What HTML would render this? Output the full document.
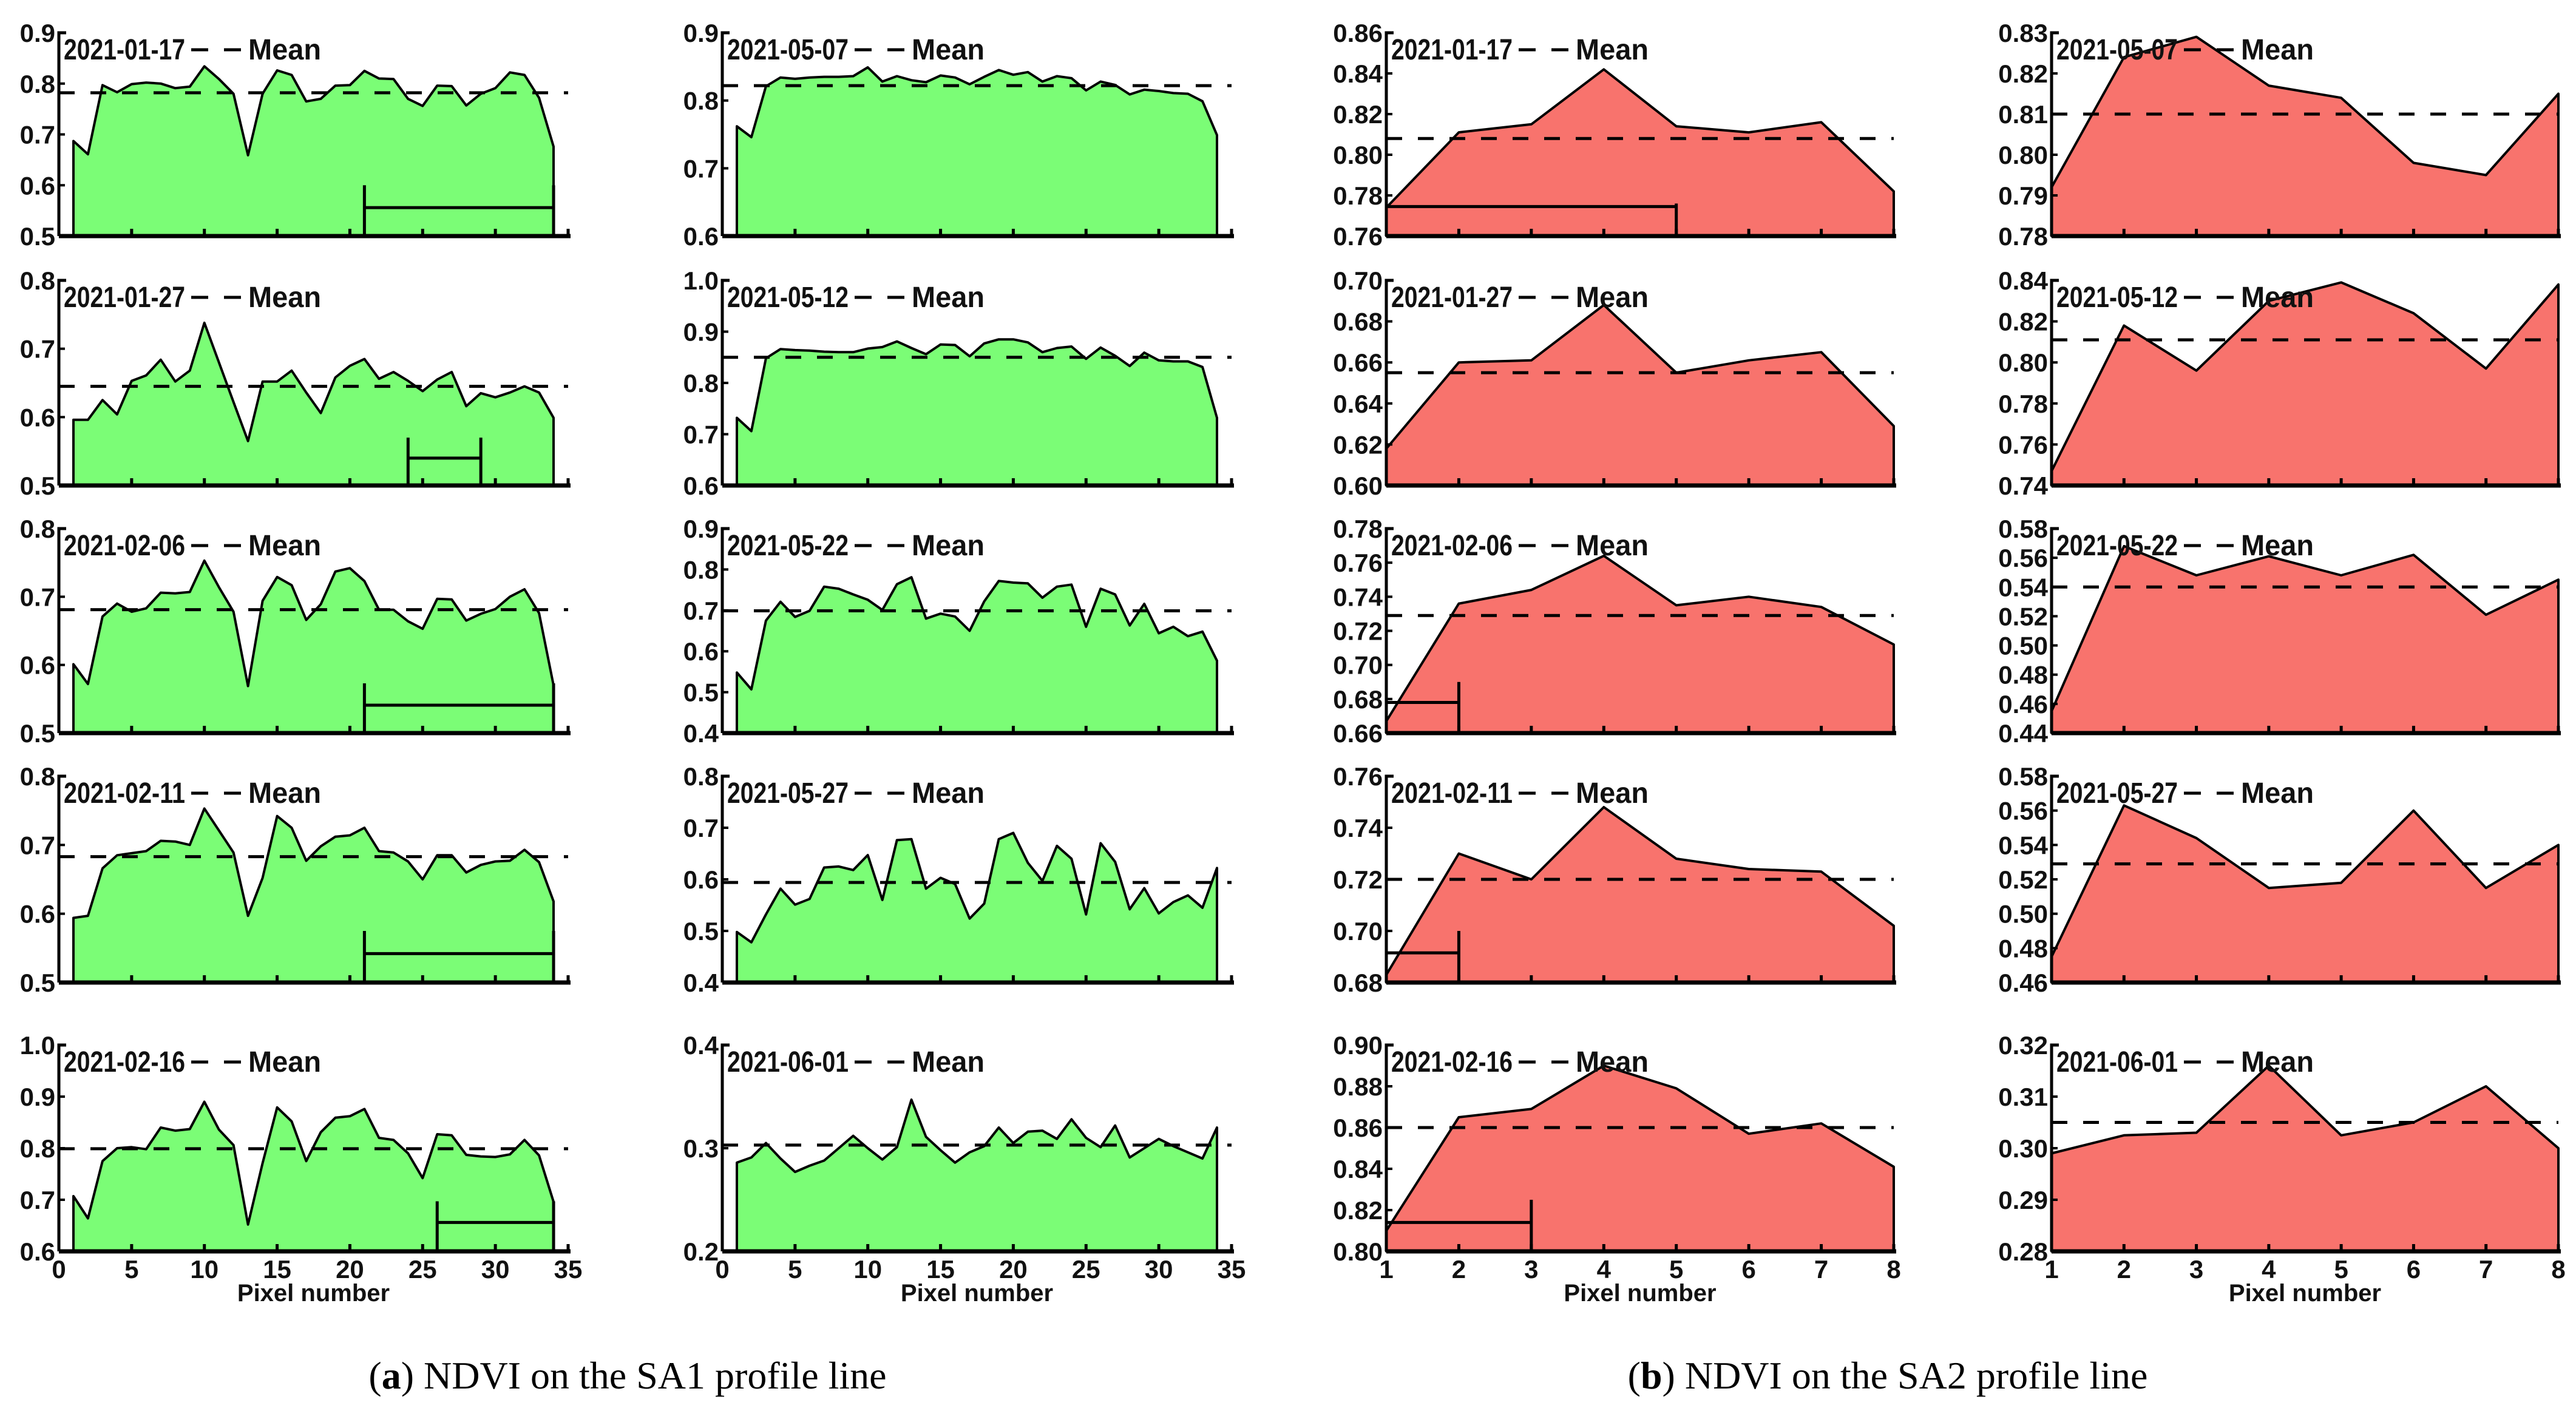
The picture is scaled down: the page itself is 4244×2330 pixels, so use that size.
<!DOCTYPE html>
<html><head><meta charset="utf-8"><style>
html,body{margin:0;padding:0;background:#fff;}
svg{display:block;}
</style></head><body>
<svg id="chart" width="4244" height="2330" viewBox="0 0 4244 2330" xmlns="http://www.w3.org/2000/svg"></svg>
<script>
// ---- data (NDVI values per pixel) ----
const sa1Pixels = [1,2,3,4,5,6,7,8,9,10,11,12,13,14,15,16,17,18,19,20,21,22,23,24,25,26,27,28,29,30,31,32,33,34];
const sa2Pixels = [1,2,3,4,5,6,7,8];
const v0117 = [0.687,0.661,0.797,0.783,0.799,0.802,0.800,0.791,0.794,0.834,0.809,0.780,0.659,0.780,0.826,0.817,0.765,0.770,0.796,0.797,0.825,0.810,0.809,0.770,0.756,0.796,0.795,0.757,0.780,0.791,0.822,0.817,0.772,0.676];
const v0127 = [0.596,0.596,0.625,0.604,0.653,0.661,0.684,0.652,0.668,0.738,0.680,0.622,0.565,0.652,0.652,0.668,0.636,0.606,0.658,0.675,0.685,0.656,0.666,0.653,0.638,0.655,0.666,0.616,0.635,0.629,0.636,0.645,0.636,0.599];
const v0206 = [0.601,0.572,0.671,0.690,0.678,0.683,0.706,0.705,0.707,0.753,0.714,0.678,0.569,0.694,0.729,0.717,0.666,0.689,0.737,0.742,0.723,0.681,0.681,0.664,0.653,0.697,0.696,0.665,0.675,0.682,0.700,0.711,0.676,0.570];
const v0211 = [0.594,0.597,0.666,0.685,0.688,0.691,0.706,0.705,0.700,0.753,0.721,0.689,0.597,0.652,0.742,0.725,0.677,0.698,0.712,0.714,0.725,0.691,0.689,0.676,0.650,0.685,0.685,0.660,0.671,0.676,0.677,0.693,0.675,0.618];
const v0216 = [0.707,0.664,0.775,0.800,0.802,0.798,0.840,0.834,0.837,0.890,0.836,0.806,0.652,0.771,0.879,0.852,0.775,0.831,0.859,0.862,0.876,0.820,0.816,0.790,0.742,0.827,0.825,0.787,0.784,0.783,0.788,0.816,0.786,0.696];
const v0507 = [0.762,0.746,0.821,0.834,0.832,0.834,0.835,0.835,0.836,0.849,0.828,0.836,0.830,0.827,0.837,0.834,0.824,0.835,0.845,0.838,0.842,0.828,0.836,0.833,0.815,0.828,0.823,0.809,0.816,0.814,0.811,0.810,0.799,0.749];
const v0512 = [0.732,0.706,0.848,0.866,0.864,0.863,0.861,0.860,0.860,0.867,0.870,0.881,0.868,0.856,0.875,0.874,0.852,0.877,0.885,0.885,0.879,0.860,0.868,0.871,0.847,0.869,0.853,0.833,0.859,0.844,0.842,0.842,0.831,0.732];
const v0522 = [0.548,0.507,0.675,0.721,0.684,0.699,0.758,0.753,0.739,0.726,0.701,0.764,0.781,0.680,0.692,0.685,0.650,0.722,0.772,0.768,0.766,0.731,0.758,0.763,0.660,0.753,0.739,0.663,0.716,0.644,0.660,0.637,0.648,0.577];
const v0527 = [0.498,0.478,0.532,0.582,0.551,0.562,0.623,0.625,0.618,0.647,0.560,0.676,0.678,0.582,0.603,0.591,0.524,0.553,0.678,0.690,0.632,0.597,0.665,0.640,0.532,0.670,0.634,0.542,0.583,0.534,0.556,0.569,0.545,0.622];
const v0601 = [0.286,0.291,0.305,0.290,0.277,0.283,0.288,0.300,0.312,0.300,0.289,0.301,0.347,0.311,0.298,0.286,0.296,0.302,0.320,0.305,0.316,0.317,0.309,0.328,0.310,0.301,0.322,0.291,0.300,0.309,0.302,0.296,0.290,0.320];
const w0117 = [0.774,0.811,0.815,0.842,0.814,0.811,0.816,0.782];
const w0127 = [0.618,0.660,0.661,0.688,0.655,0.661,0.665,0.629];
const w0206 = [0.667,0.736,0.744,0.764,0.735,0.740,0.734,0.712];
const w0211 = [0.683,0.730,0.720,0.748,0.728,0.724,0.723,0.702];
const w0216 = [0.810,0.865,0.869,0.890,0.879,0.857,0.862,0.841];
const w0507 = [0.792,0.824,0.829,0.817,0.814,0.798,0.795,0.815];
const w0512 = [0.747,0.818,0.796,0.830,0.839,0.824,0.797,0.838];
const w0522 = [0.455,0.568,0.548,0.561,0.548,0.562,0.521,0.545];
const w0527 = [0.475,0.563,0.544,0.515,0.518,0.560,0.515,0.540];
const w0601 = [0.299,0.3025,0.303,0.316,0.3025,0.305,0.312,0.300];
const sa1Means = [0.782,0.645,0.681,0.683,0.799,0.822,0.850,0.699,0.594,0.303];
const sa2Means = [0.808,0.655,0.729,0.720,0.860,0.810,0.811,0.540,0.529,0.305];
const sa1Dates = ["2021-01-17","2021-01-27","2021-02-06","2021-02-11","2021-02-16","2021-05-07","2021-05-12","2021-05-22","2021-05-27","2021-06-01"];
const sa1XTicks = [0,5,10,15,20,25,30,35];
const sa2XTicks = [1,2,3,4,5,6,7,8];
// y-axis domains [min,max,step,decimals]
const sa1Domains = [[0.5,0.9,0.1,1],[0.5,0.8,0.1,1],[0.5,0.8,0.1,1],[0.5,0.8,0.1,1],[0.6,1.0,0.1,1],[0.6,0.9,0.1,1],[0.6,1.0,0.1,1],[0.4,0.9,0.1,1],[0.4,0.8,0.1,1],[0.2,0.4,0.1,1]];
const sa2Domains = [[0.76,0.86,0.02,2],[0.60,0.70,0.02,2],[0.66,0.78,0.02,2],[0.68,0.76,0.02,2],[0.80,0.90,0.02,2],[0.78,0.83,0.01,2],[0.74,0.84,0.02,2],[0.44,0.58,0.02,2],[0.46,0.58,0.02,2],[0.28,0.32,0.01,2]];
// scale bars: [xStart,xEnd,yLevel,yTop] or null
const sa1Bars = [[21,34,0.556,0.6],[24,29,0.54,0.57],[21,34,0.541,0.573],[21,34,0.542,0.575],[26,34,0.656,0.697],null,null,null,null,null];
const sa2Bars = [[1,5,0.7745,0.776],null,[1,2,0.678,0.69],[1,2,0.6915,0.70],[1,3,0.814,0.825],null,null,null,null,null];

const NS = "http://www.w3.org/2000/svg";
const svg = document.getElementById('chart');
const FONT = '"Liberation Sans Narrow","Liberation Sans",sans-serif';
function mk(tag, attrs, parent){
  const e = document.createElementNS(NS, tag);
  for (const k in attrs) e.setAttribute(k, attrs[k]);
  (parent||svg).appendChild(e);
  return e;
}
const rowTops = [54,462,871,1279,1722];
const rowBots = [389,800,1208,1619,2062];
const cols = [
  {x0:97, x1:936, dmin:0, dmax:35, axisEnd:936, ticks:sa1XTicks, color:'#7bfd76'},
  {x0:1190, x1:2029, dmin:0, dmax:35, axisEnd:2029, ticks:sa1XTicks, color:'#7bfd76'},
  {x0:2284, x1:3120, dmin:1, dmax:8, axisEnd:3120, ticks:sa2XTicks, color:'#f8736d'},
  {x0:3380, x1:4215, dmin:1, dmax:8, axisEnd:4215, ticks:sa2XTicks, color:'#f8736d'}
];
const sa1Vals = [v0117,v0127,v0206,v0211,v0216,v0507,v0512,v0522,v0527,v0601];
const sa2Vals = [w0117,w0127,w0206,w0211,w0216,w0507,w0512,w0522,w0527,w0601];

function drawPanel(ci, ri, xs, vals, mean, dom, bar, date){
  const c = cols[ci];
  const top = rowTops[ri], bot = rowBots[ri];
  const g = mk('g', {});
  
  
  const X = v => c.x0 + (v - c.dmin) / (c.dmax - c.dmin) * (c.x1 - c.x0);
  const Y = v => bot - (v - dom[0]) / (dom[1] - dom[0]) * (bot - top);
  let d = 'M' + X(xs[0]) + ',' + bot;
  xs.forEach((x,i) => { d += ' L' + X(x).toFixed(1) + ',' + Y(vals[i]).toFixed(1); });
  d += ' L' + X(xs[xs.length-1]) + ',' + bot + ' Z';
  const area = mk('path', {d:d, fill:c.color, stroke:'#000', 'stroke-width':4, 'stroke-linejoin':'round'}, g);
  
  
  const ml = mk('line', {x1:c.x0, x2:c.axisEnd, y1:Y(mean), y2:Y(mean), stroke:'#000', 'stroke-width':5, 'stroke-dasharray':'26 26'}, g);
  
  
  if (bar){
    const bg = mk('g', {stroke:'#000','stroke-width':5}, g);
    
    
    mk('line', {x1:X(bar[0]), x2:X(bar[0]), y1:bot, y2:Y(bar[3])}, bg);
    mk('line', {x1:X(bar[1]), x2:X(bar[1]), y1:bot, y2:Y(bar[3])}, bg);
    mk('line', {x1:X(bar[0]), x2:X(bar[1]), y1:Y(bar[2]), y2:Y(bar[2])}, bg);
  }
  const axX = c.x0;
  const yAxis = mk('path', {d:'M'+(axX+12)+','+top+' L'+axX+','+top+' L'+axX+','+bot, fill:'none', stroke:'#000', 'stroke-width':5}, g);
  
  
  const xAxis = mk('line', {x1:axX, x2:c.axisEnd+4, y1:bot, y2:bot, stroke:'#000','stroke-width':7}, g);
  
  
  c.ticks.forEach(t => {
    mk('line', {x1:X(t), x2:X(t), y1:bot, y2:bot-12, stroke:'#000','stroke-width':5}, g);
    if (ri === 4){
      const tl = mk('text', {x:X(t), y:bot+44, 'text-anchor':'middle', 'font-family':FONT, 'font-weight':'bold', 'font-size':42, fill:'#111'}, g);
      tl.textContent = String(t);
      
      
    }
  });
  const n = Math.round((dom[1]-dom[0])/dom[2]);
  for (let k=0;k<=n;k++){
    const v = dom[0] + k*dom[2];
    mk('line', {x1:axX, x2:axX+10, y1:Y(v), y2:Y(v), stroke:'#000','stroke-width':4}, g);
    const yl = mk('text', {x:axX-6, y:Y(v)+15, 'text-anchor':'end', 'font-family':FONT, 'font-weight':'bold', 'font-size':42, fill:'#111'}, g);
    yl.textContent = v.toFixed(dom[3]);
    
    
  }
  const lg = mk('g', {}, g);
  
  
  const lt = mk('text', {x:axX+8, y:top+44, 'font-family':FONT, 'font-weight':'bold', 'font-size':48, fill:'#111', textLength:200, lengthAdjust:'spacingAndGlyphs'}, lg);
  lt.textContent = date;
  mk('line', {x1:axX+218, x2:axX+246, y1:top+28, y2:top+28, stroke:'#000','stroke-width':5}, lg);
  mk('line', {x1:axX+272, x2:axX+300, y1:top+28, y2:top+28, stroke:'#000','stroke-width':5}, lg);
  const mt = mk('text', {x:axX+312, y:top+44, 'font-family':FONT, 'font-weight':'bold', 'font-size':48, fill:'#111', textLength:120, lengthAdjust:'spacingAndGlyphs'}, lg);
  mt.textContent = 'Mean';
}

for (let i=0;i<10;i++){
  const ci = i<5 ? 0 : 1, ri = i%5;
  drawPanel(ci, ri, sa1Pixels, sa1Vals[i], sa1Means[i], sa1Domains[i], sa1Bars[i], sa1Dates[i]);
  drawPanel(ci+2, ri, sa2Pixels, sa2Vals[i], sa2Means[i], sa2Domains[i], sa2Bars[i], sa1Dates[i]);
}
cols.forEach((c,ci) => {
  const t = mk('text', {x:(c.x0+c.x1)/2, y:2144, 'text-anchor':'middle', 'font-family':FONT, 'font-weight':'bold', 'font-size':40, fill:'#111'});
  t.textContent = 'Pixel number';
  
  
});
const capA = mk('text', {x:1034, y:2288, 'text-anchor':'middle', 'font-family':'"Liberation Serif",serif', 'font-size':64, fill:'#000'});
capA.innerHTML = '(<tspan font-weight="bold">a</tspan>) NDVI on the SA1 profile line';


const capB = mk('text', {x:3110, y:2288, 'text-anchor':'middle', 'font-family':'"Liberation Serif",serif', 'font-size':64, fill:'#000'});
capB.innerHTML = '(<tspan font-weight="bold">b</tspan>) NDVI on the SA2 profile line';


</script>
</body></html>
